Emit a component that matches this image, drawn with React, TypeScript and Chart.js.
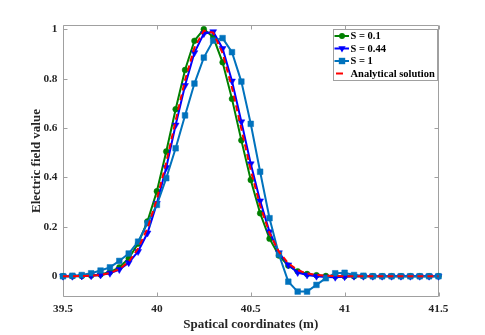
import React, { useEffect, useRef } from "react";
import { Chart, registerables } from "chart.js";

Chart.register(...registerables);

// ---- data ----
const xCoords = [
  39.5, 39.55, 39.6, 39.65, 39.7, 39.75, 39.8, 39.85, 39.9, 39.95,
  40, 40.05, 40.1, 40.15, 40.2, 40.25, 40.3, 40.35, 40.4, 40.45,
  40.5, 40.55, 40.6, 40.65, 40.7, 40.75, 40.8, 40.85, 40.9, 40.95,
  41, 41.05, 41.1, 41.15, 41.2, 41.25, 41.3, 41.35, 41.4, 41.45, 41.5,
];

const seriesS01 = [
  0, 0, 0.001, 0.003, 0.007, 0.017, 0.036, 0.072, 0.132, 0.222,
  0.344, 0.505, 0.676, 0.835, 0.953, 1.0, 0.968, 0.866, 0.718, 0.55,
  0.39, 0.255, 0.152, 0.084, 0.043, 0.02, 0.009, 0.004, 0.001, 0,
  0, 0, 0, 0, 0, 0, 0, 0, 0, 0, 0,
];

const seriesS044 = [
  0, 0, 0.001, 0.002, 0.005, 0.012, 0.027, 0.055, 0.1, 0.175,
  0.295, 0.44, 0.612, 0.772, 0.905, 0.982, 0.99, 0.922, 0.79, 0.625,
  0.455, 0.305, 0.18, 0.095, 0.046, 0.015, 0.005, 0, -0.003, -0.004,
  -0.002, 0, 0, 0, 0, 0, 0, 0, 0, 0, 0,
];

const seriesS1 = [
  0, 0.002, 0.005, 0.012, 0.023, 0.036, 0.062, 0.092, 0.14, 0.215,
  0.289, 0.397, 0.518, 0.651, 0.78, 0.885, 0.954, 0.964, 0.907, 0.788,
  0.617, 0.423, 0.235, 0.088, -0.022, -0.062, -0.062, -0.035, -0.008, 0.012,
  0.014, 0.005, 0.002, 0, 0, 0, 0, 0, 0, 0, 0,
];

const seriesAnalytical = [
  0, 0, 0.001, 0.002, 0.005, 0.013, 0.029, 0.059, 0.112, 0.194,
  0.312, 0.461, 0.63, 0.794, 0.925, 0.994, 0.986, 0.903, 0.763, 0.596,
  0.429, 0.285, 0.175, 0.099, 0.052, 0.025, 0.011, 0.005, 0.002, 0.001,
  0, 0, 0, 0, 0, 0, 0, 0, 0, 0, 0,
];

const seriesNames = ["S = 0.1", "S = 0.44", "S = 1", "Analytical solution"];

const xTicks = [39.5, 40, 40.5, 41, 41.5];
const xTickLabels = ["39.5", "40", "40.5", "41", "41.5"];
const yTicks = [0, 0.2, 0.4, 0.6, 0.8, 1];
const yTickLabels = ["0", "0.2", "0.4", "0.6", "0.8", "1"];

const xTitle = "Spatical coordinates (m)";
const yTitle = "Electric field value";

// ---- styles ----
const AXIS_COLOR = "#a0a0a0";
const TEXT_COLOR = "#262626";
const FONT = "'Liberation Serif', 'Times New Roman', serif";
const GREEN = "#008000";
const BLUE = "#0000ff";
const LBLUE = "#0072bd";
const RED = "#ff0000";

const toPts = (ys: number[]) => ys.map((y, i) => ({ x: xCoords[i], y }));

const boxPlugin = {
  id: "boxAndTicks",
  beforeDatasetsDraw(chart: any) {
    const { ctx, chartArea: a, scales } = chart;
    const L = Math.round(a.left) + 0.5;
    const R = Math.round(a.right) - 0.5;
    const T = Math.round(a.top) + 0.5;
    const B = Math.round(a.bottom) - 0.5;
    const tl = 4;
    ctx.save();
    ctx.strokeStyle = AXIS_COLOR;
    ctx.lineWidth = 1;
    ctx.beginPath();
    ctx.rect(L, T, R - L, B - T);
    xTicks.forEach((v) => {
      const px = Math.round(scales.x.getPixelForValue(v)) + 0.5;
      ctx.moveTo(px, B);
      ctx.lineTo(px, B - tl);
      ctx.moveTo(px, T);
      ctx.lineTo(px, T + tl);
    });
    yTicks.forEach((v) => {
      const py = Math.round(scales.y.getPixelForValue(v)) + 0.5;
      ctx.moveTo(L, py);
      ctx.lineTo(L + tl, py);
      ctx.moveTo(R, py);
      ctx.lineTo(R - tl, py);
    });
    ctx.stroke();
    ctx.restore();
  },
};

function drawMarker(ctx: CanvasRenderingContext2D, kind: string, x: number, y: number, color: string) {
  ctx.fillStyle = color;
  ctx.beginPath();
  if (kind === "circle") {
    ctx.arc(x, y, 3, 0, Math.PI * 2);
  } else if (kind === "tri") {
    ctx.moveTo(x, y + 4);
    ctx.lineTo(x - 3.6, y - 2.2);
    ctx.lineTo(x + 3.6, y - 2.2);
    ctx.closePath();
  } else if (kind === "square") {
    ctx.rect(x - 3.2, y - 3.2, 6.4, 6.4);
  }
  ctx.fill();
}

const legendPlugin = {
  id: "customLegend",
  afterDraw(chart: any) {
    const { ctx, chartArea: a } = chart;
    const right = Math.round(a.right) - 2;
    const left = right - 104;
    const top = Math.round(a.top) + 4;
    const h = 51;
    ctx.save();
    ctx.fillStyle = "#ffffff";
    ctx.fillRect(left, top, right - left, h);
    ctx.strokeStyle = AXIS_COLOR;
    ctx.lineWidth = 1;
    ctx.strokeRect(left + 0.5, top + 0.5, right - left, h);
    const entries = [
      { color: GREEN, marker: "circle", dash: false },
      { color: BLUE, marker: "tri", dash: false },
      { color: LBLUE, marker: "square", dash: false },
      { color: RED, marker: "", dash: true },
    ];
    ctx.font = `bold 10.5px ${FONT}`;
    ctx.textBaseline = "middle";
    ctx.textAlign = "left";
    entries.forEach((e, i) => {
      const cy = top + 7 + i * 12.5;
      ctx.strokeStyle = e.color;
      ctx.lineWidth = 2;
      ctx.beginPath();
      if (e.dash) {
        ctx.moveTo(left + 3, cy);
        ctx.lineTo(left + 10, cy);
      } else {
        ctx.moveTo(left + 1.5, cy);
        ctx.lineTo(left + 16, cy);
      }
      ctx.stroke();
      if (e.marker) drawMarker(ctx, e.marker, left + 9, cy, e.color);
      ctx.fillStyle = "#000000";
      ctx.fillText(seriesNames[i], left + 17.5, cy + 0.5);
    });
    ctx.restore();
  },
};

export default function App() {
  const ref = useRef<HTMLCanvasElement | null>(null);

  useEffect(() => {
    if (!ref.current) return;
    const tickFont = { family: FONT, size: 11.3, weight: "bold" as const };
    const titleFont = { family: FONT, size: 13, weight: "bold" as const };
    const chart = new Chart(ref.current, {
      type: "line",
      data: {
        datasets: [
          {
            label: seriesNames[3],
            data: toPts(seriesAnalytical),
            borderColor: RED,
            backgroundColor: RED,
            borderWidth: 2,
            borderDash: [6, 4],
            pointRadius: 0,
            tension: 0,
            order: 0,
            clip: false as any,
          },
          {
            label: seriesNames[2],
            data: toPts(seriesS1),
            borderColor: LBLUE,
            backgroundColor: LBLUE,
            borderWidth: 2,
            pointStyle: "rect",
            pointRadius: 4,
            pointBorderWidth: 0.5,
            tension: 0,
            order: 1,
            clip: false as any,
          },
          {
            label: seriesNames[1],
            data: toPts(seriesS044),
            borderColor: BLUE,
            backgroundColor: BLUE,
            borderWidth: 2,
            pointStyle: "triangle",
            pointRotation: 180,
            pointRadius: 4,
            pointBorderWidth: 0.5,
            tension: 0,
            order: 2,
            clip: false as any,
          },
          {
            label: seriesNames[0],
            data: toPts(seriesS01),
            borderColor: GREEN,
            backgroundColor: GREEN,
            borderWidth: 2,
            pointStyle: "circle",
            pointRadius: 2.9,
            pointBorderWidth: 0.5,
            tension: 0,
            order: 3,
            clip: false as any,
          },
        ],
      },
      options: {
        animation: false,
        responsive: false,
        devicePixelRatio: 1,
        layout: { padding: { left: 0, top: 25, right: 46.5, bottom: 0 } },
        plugins: {
          legend: { display: false },
          tooltip: { enabled: false },
        },
        scales: {
          x: {
            type: "linear",
            min: 39.5,
            max: 41.5,
            afterBuildTicks: (s: any) => {
              s.ticks = xTicks.map((v) => ({ value: v }));
            },
            afterFit: (s: any) => {
              s.height = 38;
            },
            grid: { display: false, drawTicks: false },
            border: { display: false },
            ticks: {
              padding: 5,
              color: TEXT_COLOR,
              font: tickFont,
              maxRotation: 0,
              autoSkip: false,
              callback: (_v: any, i: number) => xTickLabels[i],
            },
            title: {
              display: true,
              text: xTitle,
              color: TEXT_COLOR,
              font: titleFont,
              padding: { top: 0, bottom: 3 },
            },
          },
          y: {
            type: "linear",
            min: -0.084,
            max: 1.017,
            afterBuildTicks: (s: any) => {
              s.ticks = yTicks.map((v) => ({ value: v }));
            },
            afterFit: (s: any) => {
              s.width = 63;
            },
            grid: { display: false, drawTicks: false },
            border: { display: false },
            ticks: {
              padding: 5.5,
              color: TEXT_COLOR,
              font: tickFont,
              autoSkip: false,
              callback: (_v: any, i: number) => yTickLabels[i],
            },
            title: {
              display: true,
              text: yTitle,
              color: TEXT_COLOR,
              font: titleFont,
              padding: { top: 29, bottom: 0 },
            },
          },
        },
      },
      plugins: [boxPlugin, legendPlugin],
    });
    return () => chart.destroy();
  }, []);

  return (
    <div style={{ position: "fixed", left: 0, top: 0, width: 485, height: 335, background: "#fff" }}>
      <canvas ref={ref} width={485} height={335} style={{ display: "block" }} />
    </div>
  );
}
